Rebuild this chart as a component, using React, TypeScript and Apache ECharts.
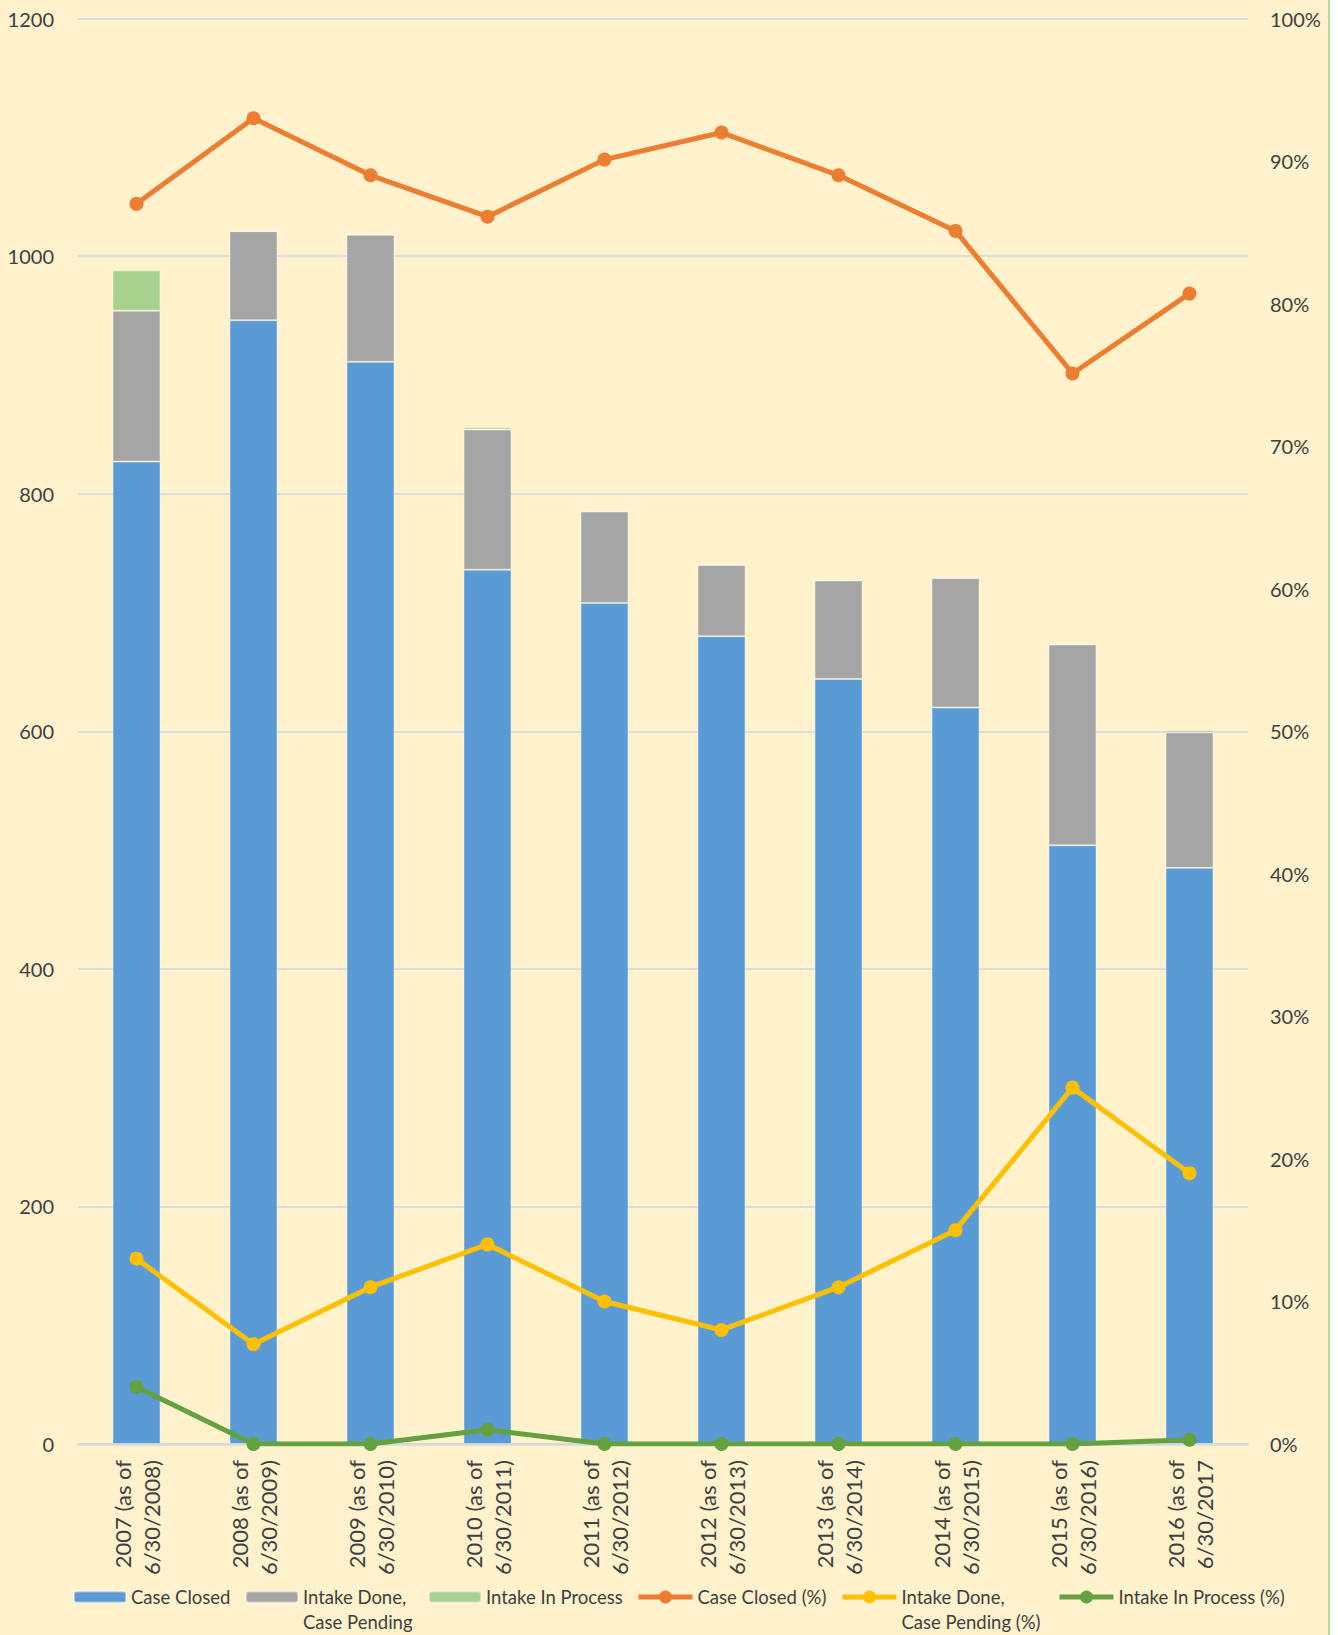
import React, { useEffect, useRef } from "react";
import * as echarts from "echarts";

const categories = [
  "2007 (as of\n6/30/2008)",
  "2008 (as of\n6/30/2009)",
  "2009 (as of\n6/30/2010)",
  "2010 (as of\n6/30/2011)",
  "2011 (as of\n6/30/2012)",
  "2012 (as of\n6/30/2013)",
  "2013 (as of\n6/30/2014)",
  "2014 (as of\n6/30/2015)",
  "2015 (as of\n6/30/2016)",
  "2016 (as of\n6/30/2017",
];

const caseClosed = [827, 946, 911, 736, 708, 680, 644, 620, 504, 485];
const intakeDone = [127, 75, 107, 118, 77, 60, 83, 109, 169, 114];
const intakeInProcess = [34, 0, 0, 2, 0, 0, 0, 0, 0, 2];

const caseClosedPct = [87.0, 93.0, 89.0, 86.1, 90.1, 92.0, 89.0, 85.1, 75.1, 80.7];
const intakeDonePct = [13.0, 7.0, 11.0, 14.0, 10.0, 8.0, 11.0, 15.0, 25.0, 19.0];
const intakeInProcessPct = [4.0, 0, 0, 1.0, 0, 0, 0, 0, 0, 0.3];

const seriesNames = [
  "Case Closed",
  "Intake Done,\nCase Pending",
  "Intake In Process",
  "Case Closed (%)",
  "Intake Done,\nCase Pending (%)",
  "Intake In Process (%)",
];

const colors = ["#5B9BD5", "#A5A5A5", "#A9D18E", "#ED7D31", "#FFC000", "#64A13F"];
const legendLefts = [73, 245, 428, 636, 840, 1057];

const FONT = "Lato";
const TEXT = "#404040";

export default function App() {
  const ref = useRef<HTMLDivElement>(null);
  useEffect(() => {
    if (!ref.current) return;
    const chart = echarts.init(ref.current, null, { renderer: "svg" });
    const LH = 25;
    const legends = seriesNames.map((name, i) => {
      const twoLine = name.includes("\n");
      const isLine = i >= 3;
      return {
        data: [name],
        left: legendLefts[i],
        top: twoLine ? 1597 - LH * 1.5 : 1597 - LH / 2,
        orient: "horizontal",
        padding: 0,
        itemWidth: isLine ? 54 : 52,
        itemHeight: isLine ? 16 : 11,
        itemGap: 5,
        selectedMode: false,
        lineStyle: { width: "inherit" },
        formatter: (n: string) => (n.includes("\n") ? "\n" + n : n),
        textStyle: {
          fontFamily: FONT,
          fontSize: 18.5,
          color: TEXT,
          lineHeight: LH,
        },
      };
    });
    const barBase = {
      type: "bar",
      stack: "total",
      barWidth: 48,
      yAxisIndex: 0,
    };
    const lineBase = {
      type: "line",
      yAxisIndex: 1,
      symbol: "circle",
      symbolSize: 14,
      z: 5,
    };
    const barBorder = { borderColor: "rgba(255,255,255,0.4)", borderWidth: 1 };
    const option = {
      animation: false,
      backgroundColor: "#FFF2CC",
      textStyle: { fontFamily: FONT },
      legend: legends,
      grid: { left: 78, right: 82, top: 18.5, bottom: 191, containLabel: false },
      xAxis: {
        type: "category",
        data: categories,
        axisLine: { lineStyle: { color: "#D9D9D9", width: 2.5 } },
        axisTick: { show: false },
        axisLabel: {
          rotate: 90,
          margin: 16,
          fontFamily: FONT,
          fontSize: 22,
          lineHeight: 29,
          color: TEXT,
          interval: 0,
        },
      },
      yAxis: [
        {
          type: "value",
          min: 0,
          max: 1200,
          interval: 200,
          axisLine: { show: false },
          axisTick: { show: false },
          splitLine: { lineStyle: { color: "#D9DCE3", width: 2 } },
          axisLabel: {
            margin: 24,
            fontFamily: FONT,
            fontSize: 20,
            color: TEXT,
            formatter: (v: number) => String(v),
          },
        },
        {
          type: "value",
          min: 0,
          max: 100,
          interval: 10,
          axisLine: { show: false },
          axisTick: { show: false },
          splitLine: { show: false },
          axisLabel: {
            margin: 22,
            fontFamily: FONT,
            fontSize: 20,
            color: TEXT,
            formatter: (v: number) => `${Math.round(v)}%`,
          },
        },
      ],
      series: [
        {
          ...barBase,
          name: seriesNames[0],
          data: caseClosed,
          itemStyle: { color: colors[0], ...barBorder },
        },
        {
          ...barBase,
          name: seriesNames[1],
          data: intakeDone,
          itemStyle: { color: colors[1], ...barBorder },
        },
        {
          ...barBase,
          name: seriesNames[2],
          data: intakeInProcess,
          itemStyle: { color: colors[2], ...barBorder },
        },
        {
          ...lineBase,
          name: seriesNames[3],
          data: caseClosedPct,
          itemStyle: { color: colors[3] },
          lineStyle: { color: colors[3], width: 5 },
        },
        {
          ...lineBase,
          name: seriesNames[4],
          data: intakeDonePct,
          itemStyle: { color: colors[4] },
          lineStyle: { color: colors[4], width: 5 },
        },
        {
          ...lineBase,
          name: seriesNames[5],
          data: intakeInProcessPct,
          itemStyle: { color: colors[5] },
          lineStyle: { color: colors[5], width: 5 },
        },
      ],
    };
    chart.setOption(option as any);
    return () => chart.dispose();
  }, []);
  return (
    <div style={{ position: "absolute", left: 0, top: 0, width: 1338, height: 1635, background: "#FFFFFF" }}>
      <div ref={ref} style={{ position: "absolute", left: 0, top: 0, width: 1330, height: 1635 }} />
      <div style={{ position: "absolute", left: 1328, top: 0, width: 2, height: 1635, background: "#B8DA9F" }} />
    </div>
  );
}
